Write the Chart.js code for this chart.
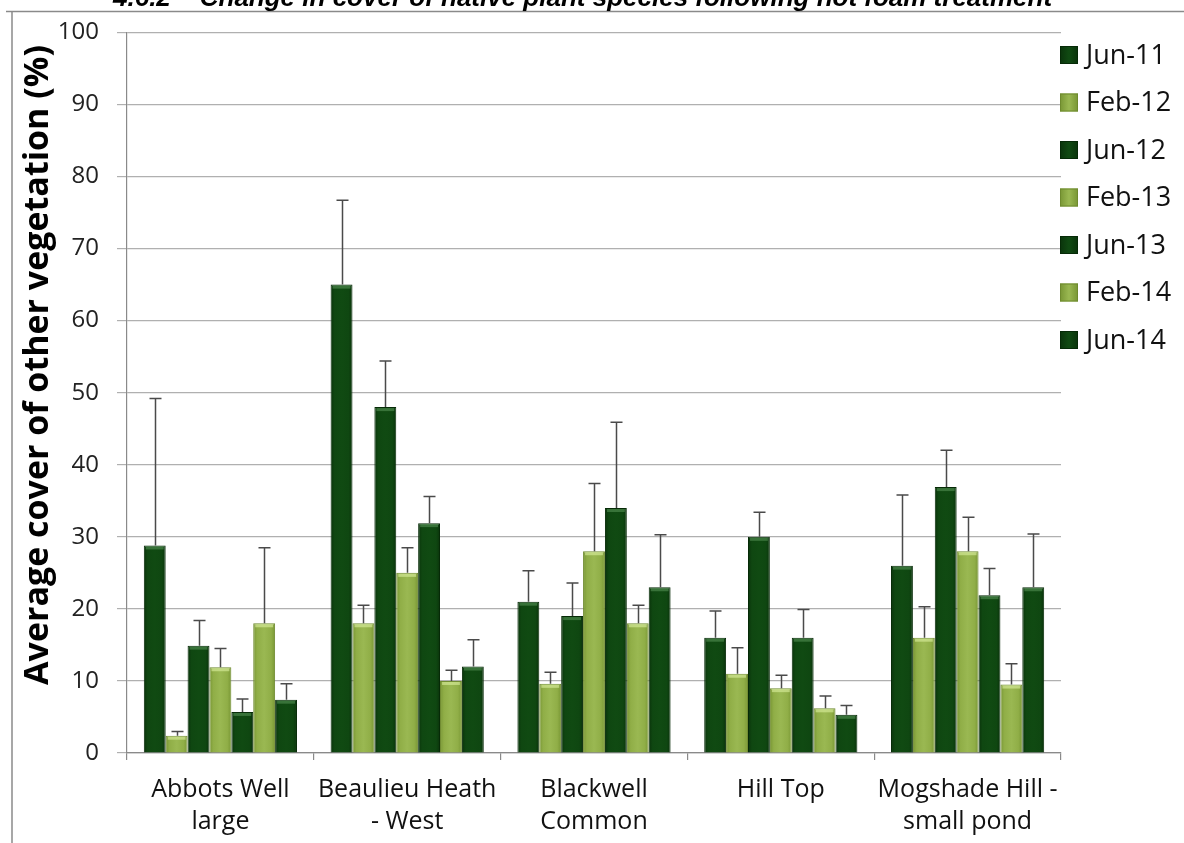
<!DOCTYPE html>
<html><head><meta charset="utf-8">
<script src="https://cdn.jsdelivr.net/npm/chart.js@4.4.0/dist/chart.umd.min.js"></script>
<style>html,body{margin:0;padding:0;background:#fff;overflow:hidden}#wrap{width:1184px;height:843px;position:relative}</style>
</head><body><div id="wrap"><canvas id="c" width="1184" height="843"></canvas></div>
<script>
const chartTitle = "4.6.2 \u2013 Change in cover of native plant species following hot foam treatment";
const yTitle = "Average cover of other vegetation (%)";
const categories = [["Abbots Well","large"],["Beaulieu Heath","- West"],["Blackwell","Common"],["Hill Top"],["Mogshade Hill -","small pond"]];
const seriesNames = ["Jun-11","Feb-12","Jun-12","Feb-13","Jun-13","Feb-14","Jun-14"];
const jun11 = [28.8, 65, 21, 16, 26];
const feb12 = [2.4, 18, 9.6, 11, 16];
const jun12 = [14.9, 48, 19, 30, 36.9];
const feb13 = [11.9, 25, 28, 9, 28];
const jun13 = [5.7, 31.9, 34, 16, 21.9];
const feb14 = [18, 10, 18, 6.2, 9.5];
const jun14 = [7.4, 12, 23, 5.3, 23];
const jun11Err = [20.4, 11.7, 4.3, 3.7, 9.8];
const feb12Err = [0.6, 2.5, 1.6, 3.6, 4.3];
const jun12Err = [3.5, 6.4, 4.6, 3.4, 5.1];
const feb13Err = [2.6, 3.5, 9.4, 1.8, 4.7];
const jun13Err = [1.8, 3.7, 11.9, 3.9, 3.7];
const feb14Err = [10.5, 1.5, 2.5, 1.7, 2.9];
const jun14Err = [2.2, 3.7, 7.3, 1.3, 7.4];
const yTicks = [0,10,20,30,40,50,60,70,80,90,100];

const DARK = '#0e420f', LIGHT = '#8eac45';
const DARK_B = '#062a07', LIGHT_B = '#6e8a2e';
const values = [jun11, feb12, jun12, feb13, jun13, feb14, jun14];
const errors = [jun11Err, feb12Err, jun12Err, feb13Err, jun13Err, feb14Err, jun14Err];
const CAT_PCT = 0.82;

function barFill(context, dark) {
  const flat = dark ? DARK : LIGHT;
  const chart = context.chart, xs = chart.scales && chart.scales.x;
  if (!xs || context.dataIndex === undefined || context.datasetIndex === undefined || !chart.ctx) return flat;
  const n = chart.data.datasets.length;
  const cat = (xs.right - xs.left) / chart.data.labels.length;
  const bw = cat * CAT_PCT / n;
  const cx = xs.getPixelForValue(context.dataIndex) + (context.datasetIndex - (n - 1) / 2) * bw;
  if (!isFinite(cx) || !isFinite(bw) || bw <= 0) return flat;
  const g = chart.ctx.createLinearGradient(cx - bw / 2, 0, cx + bw / 2, 0);
  if (dark) {
    g.addColorStop(0, '#0a330b'); g.addColorStop(0.18, '#0f4711');
    g.addColorStop(0.5, '#104a12'); g.addColorStop(0.82, '#0f4711'); g.addColorStop(1, '#0a330b');
  } else {
    g.addColorStop(0, '#789634'); g.addColorStop(0.18, '#90ae47');
    g.addColorStop(0.5, '#9ab852'); g.addColorStop(0.82, '#90ae47'); g.addColorStop(1, '#789634');
  }
  return g;
}

const datasets = seriesNames.map((name, i) => ({
  label: name,
  data: values[i],
  errUp: errors[i],
  backgroundColor: (c) => barFill(c, i % 2 === 0),
  borderColor: i % 2 === 0 ? DARK_B : LIGHT_B,
  borderWidth: 1,
  categoryPercentage: CAT_PCT,
  barPercentage: 1.0
}));

const errorBars = {
  id: 'errorBars',
  afterDatasetsDraw(chart) {
    const ctx = chart.ctx, y = chart.scales.y;
    ctx.save();
    chart.data.datasets.forEach((ds, di) => {
      const meta = chart.getDatasetMeta(di);
      meta.data.forEach((bar) => {
        ctx.fillStyle = di % 2 === 0 ? 'rgba(90,150,90,0.55)' : 'rgba(220,240,160,0.6)';
        ctx.fillRect(bar.x - bar.width / 2 + 2, bar.y + 1, bar.width - 4, 3);
      });
    });
    ctx.strokeStyle = '#4a4a4a';
    ctx.lineWidth = 1.5;
    chart.data.datasets.forEach((ds, di) => {
      const meta = chart.getDatasetMeta(di);
      meta.data.forEach((bar, j) => {
        const top = y.getPixelForValue(ds.data[j] + ds.errUp[j]);
        const x = Math.round(bar.x) + 0.5;
        ctx.beginPath();
        ctx.moveTo(x, bar.y);
        ctx.lineTo(x, top);
        ctx.moveTo(x - 6, top);
        ctx.lineTo(x + 6, top);
        ctx.stroke();
      });
    });
    ctx.restore();
  }
};

const decor = {
  id: 'decor',
  afterDraw(chart) {
    const ctx = chart.ctx;
    ctx.save();
    ctx.strokeStyle = '#8a8a8a';
    ctx.lineWidth = 1.5;
    ctx.beginPath();
    ctx.moveTo(6, 11.5); ctx.lineTo(1184, 11.5);
    ctx.moveTo(12, 11.5); ctx.lineTo(12, 843);
    ctx.stroke();
    ctx.fillStyle = '#000';
    ctx.font = 'italic bold 26px "Liberation Sans", Arial, sans-serif';
    ctx.textBaseline = 'alphabetic';
    ctx.textAlign = 'left';
    ctx.fillText(chartTitle, 113, 6);
    ctx.save();
    ctx.translate(38, 365);
    ctx.rotate(-Math.PI / 2);
    ctx.textAlign = 'center';
    ctx.textBaseline = 'middle';
    ctx.font = 'bold 34px "Open Sans", sans-serif';
    ctx.fillText(yTitle, 0, 0);
    ctx.restore();
    ctx.font = '27px "Open Sans", sans-serif';
    ctx.textBaseline = 'middle';
    ctx.textAlign = 'left';
    chart.data.datasets.forEach((ds, i) => {
      const cy = 55 + i * 47.5;
      const g = ctx.createLinearGradient(1060, 0, 1078, 0);
      if (i % 2 === 0) { g.addColorStop(0, '#0a330b'); g.addColorStop(0.5, '#104a12'); g.addColorStop(1, '#0a330b'); }
      else { g.addColorStop(0, '#789634'); g.addColorStop(0.5, '#9ab852'); g.addColorStop(1, '#789634'); }
      ctx.fillStyle = g;
      ctx.fillRect(1060, cy - 9, 18, 18);
      ctx.strokeStyle = ds.borderColor;
      ctx.lineWidth = 1;
      ctx.strokeRect(1060.5, cy - 8.5, 17, 17);
      ctx.fillStyle = '#111';
      ctx.fillText(ds.label, 1086, cy + 1);
    });
    ctx.restore();
  }
};

new Chart(document.getElementById('c'), {
  type: 'bar',
  data: { labels: categories, datasets },
  plugins: [errorBars, decor],
  options: {
    responsive: false,
    animation: false,
    layout: { padding: { top: 32, right: 123, left: 0, bottom: 0 } },
    plugins: { legend: { display: false }, tooltip: { enabled: false } },
    scales: {
      x: {
        grid: { offset: true, drawOnChartArea: false, tickLength: 7, color: '#8a8a8a', lineWidth: 1.2 },
        border: { color: '#8a8a8a', width: 1.2 },
        ticks: { font: { family: 'Open Sans', size: 25, lineHeight: 1.28 }, color: '#111', padding: 14, maxRotation: 0, autoSkip: false },
        afterFit(s) { s.height = 90; }
      },
      y: {
        min: 0, max: 100,
        afterBuildTicks(s) { s.ticks = yTicks.map(v => ({ value: v })); },
        grid: { color: '#b0b0b0', lineWidth: 1.2, tickLength: 10 },
        border: { color: '#8a8a8a', width: 1.2 },
        ticks: { font: { family: 'Open Sans', size: 24 }, color: '#222', padding: 18 },
        afterFit(s) { s.width = 127; }
      }
    }
  }
});
</script></body></html>
